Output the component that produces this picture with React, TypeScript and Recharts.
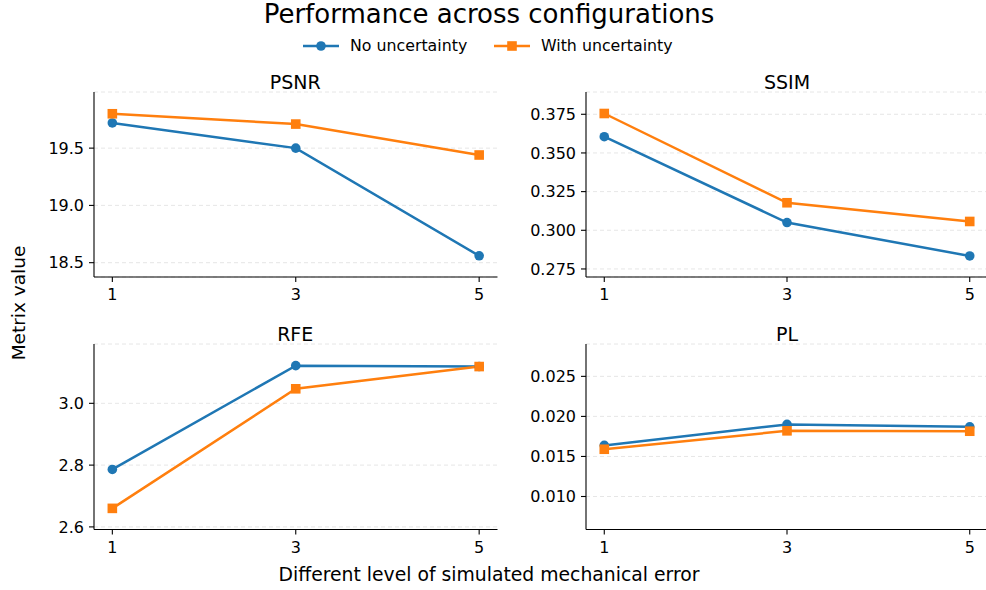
import React from "react";
import { LineChart, Line, XAxis, YAxis, CartesianGrid } from "recharts";

const levels = [1, 3, 5];
const xTicks = [1, 3, 5];

const psnrNoUnc = [19.72, 19.5, 18.56];
const psnrWithUnc = [19.8, 19.71, 19.44];
const psnrTicks = [18.5, 19.0, 19.5];

const ssimNoUnc = [0.3605, 0.305, 0.2834];
const ssimWithUnc = [0.3755, 0.3178, 0.3057];
const ssimTicks = [0.275, 0.3, 0.325, 0.35, 0.375];

const rfeNoUnc = [2.786, 3.122, 3.119];
const rfeWithUnc = [2.66, 3.047, 3.119];
const rfeTicks = [2.6, 2.8, 3.0];

const plNoUnc = [0.01638, 0.019, 0.0187];
const plWithUnc = [0.0159, 0.0182, 0.01815];
const plTicks = [0.01, 0.015, 0.02, 0.025];

const BLUE = "#1f77b4";
const ORANGE = "#ff7f0e";
const FONT = "'DejaVu Sans', sans-serif";
const Y_AXIS_W = 70;
const X_AXIS_H = 34;
const PAD_TOP = 10;

const squareDot = (props: any) => {
  const { cx, cy, index } = props;
  if (cx == null || cy == null) return <g key={`sq-${index}`} />;
  return <rect key={`sq-${index}`} x={cx - 4.8} y={cy - 4.8} width={9.6} height={9.6} fill={ORANGE} />;
};

interface PanelProps {
  title: string;
  noUnc: number[];
  withUnc: number[];
  yTicks: number[];
  yDomain: [number, number];
  decimals: number;
  left: number;
  top: number;
  right: number;
  bottom: number;
}

function Panel({ title, noUnc, withUnc, yTicks, yDomain, decimals, left, top, right, bottom }: PanelProps) {
  const data = levels.map((lv, i) => ({ level: lv, noUnc: noUnc[i], withUnc: withUnc[i] }));
  const plotW = right - left;
  const plotH = bottom - top;
  const tickStyle = { fontSize: 16, fill: "#000", fontFamily: FONT };
  return (
    <>
      <div
        style={{
          position: "absolute",
          left: left,
          width: plotW,
          top: top - 19,
          textAlign: "center",
          fontSize: 19,
          fontFamily: FONT,
          lineHeight: "19px",
          color: "#000",
        }}
      >
        {title}
      </div>
      <div style={{ position: "absolute", left: left - Y_AXIS_W, top: top - PAD_TOP }}>
        <LineChart
          width={plotW + Y_AXIS_W + 2}
          height={plotH + PAD_TOP + X_AXIS_H}
          data={data}
          margin={{ top: PAD_TOP, right: 2, left: 0, bottom: 0 }}
        >
          <CartesianGrid vertical={false} stroke="#e3e3e3" strokeDasharray="4 3" strokeWidth={0.9} />
          <XAxis
            dataKey="level"
            type="number"
            domain={[0.8, 5.2]}
            ticks={xTicks}
            allowDataOverflow
            height={X_AXIS_H}
            tick={tickStyle}
            tickSize={5}
            tickMargin={7}
            stroke="#000"
            strokeWidth={1.1}
          />
          <YAxis
            type="number"
            domain={yDomain}
            ticks={yTicks}
            allowDataOverflow
            width={Y_AXIS_W}
            tick={tickStyle}
            tickSize={5}
            tickMargin={5}
            tickFormatter={(v: number) => v.toFixed(decimals)}
            stroke="#000"
            strokeWidth={1.1}
          />
          <Line
            dataKey="noUnc"
            stroke={BLUE}
            strokeWidth={2.5}
            dot={{ r: 4.8, fill: BLUE, stroke: "none" }}
            activeDot={false}
            isAnimationActive={false}
          />
          <Line
            dataKey="withUnc"
            stroke={ORANGE}
            strokeWidth={2.5}
            dot={squareDot}
            activeDot={false}
            isAnimationActive={false}
          />
        </LineChart>
      </div>
    </>
  );
}

function LegendItem({ color, square, label, x }: { color: string; square: boolean; label: string; x: number }) {
  return (
    <div style={{ position: "absolute", left: x, top: 36, display: "flex", alignItems: "center" }}>
      <svg width={36} height={18}>
        <line x1={0} y1={9} x2={36} y2={9} stroke={color} strokeWidth={2.5} />
        {square ? (
          <rect x={13.2} y={4.2} width={9.6} height={9.6} fill={color} />
        ) : (
          <circle cx={18} cy={9} r={4.8} fill={color} />
        )}
      </svg>
      <span style={{ marginLeft: 11, fontSize: 15.8, fontFamily: FONT, color: "#000" }}>{label}</span>
    </div>
  );
}

export default function App() {
  return (
    <div
      style={{
        position: "absolute",
        left: 0,
        top: 0,
        width: 986,
        height: 590,
        overflow: "hidden",
        background: "#fff",
      }}
    >
      <div
        style={{
          position: "absolute",
          left: 0,
          width: 978,
          top: 1,
          textAlign: "center",
          fontSize: 26,
          fontFamily: FONT,
          color: "#000",
          lineHeight: "27px",
        }}
      >
        Performance across configurations
      </div>
      <LegendItem color={BLUE} square={false} label="No uncertainty" x={303} />
      <LegendItem color={ORANGE} square={true} label="With uncertainty" x={494} />

      <Panel title="PSNR" noUnc={psnrNoUnc} withUnc={psnrWithUnc} yTicks={psnrTicks}
        yDomain={[18.375, 19.99]} decimals={1} left={93.5} top={92} right={497} bottom={277} />
      <Panel title="SSIM" noUnc={ssimNoUnc} withUnc={ssimWithUnc} yTicks={ssimTicks}
        yDomain={[0.2698, 0.3894]} decimals={3} left={586} top={92} right={988} bottom={277} />
      <Panel title="RFE" noUnc={rfeNoUnc} withUnc={rfeWithUnc} yTicks={rfeTicks}
        yDomain={[2.5916, 3.192]} decimals={1} left={93.5} top={344} right={497} bottom={529.5} />
      <Panel title="PL" noUnc={plNoUnc} withUnc={plWithUnc} yTicks={plTicks}
        yDomain={[0.00588, 0.02904]} decimals={3} left={586} top={344} right={988} bottom={529.5} />

      <div
        style={{
          position: "absolute",
          left: 0,
          width: 978,
          top: 565,
          textAlign: "center",
          fontSize: 18.8,
          fontFamily: FONT,
          color: "#000",
          lineHeight: "20px",
        }}
      >
        Different level of simulated mechanical error
      </div>
      <div
        style={{
          position: "absolute",
          left: 19 - 70,
          top: 303 - 10,
          width: 140,
          height: 20,
          transform: "rotate(-90deg)",
          textAlign: "center",
          fontSize: 18.5,
          fontFamily: FONT,
          color: "#000",
          lineHeight: "20px",
        }}
      >
        Metrix value
      </div>
    </div>
  );
}
